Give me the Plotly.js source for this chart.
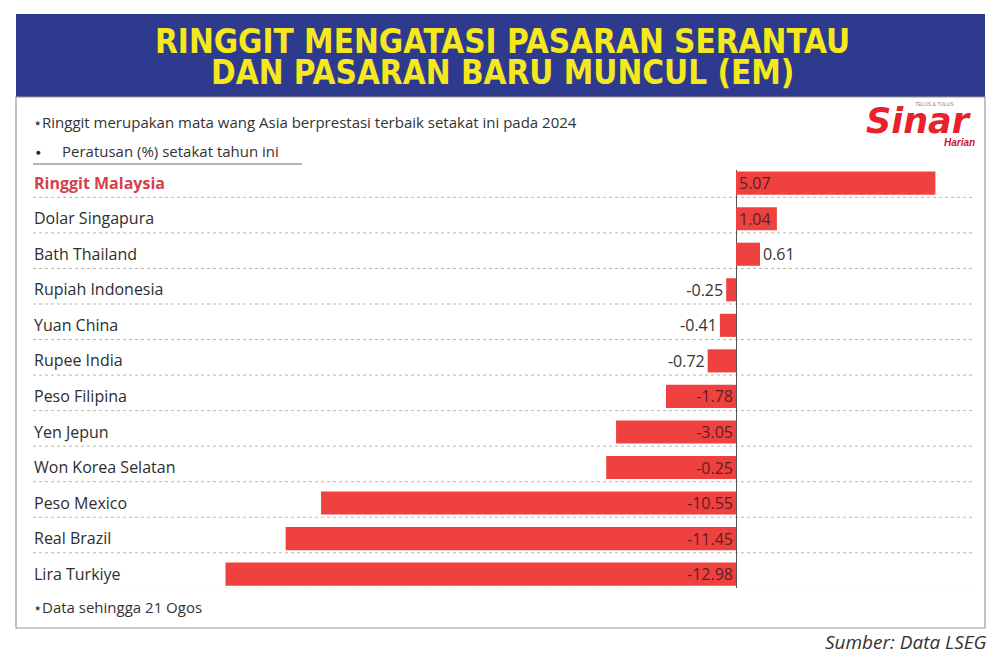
<!DOCTYPE html>
<html>
<head>
<meta charset="utf-8">
<script src="https://cdn.plot.ly/plotly-3.0.1.min.js"></script>
<style>html,body{margin:0;padding:0;background:#fff;}#chart{width:1000px;height:670px;}</style>
</head>
<body>
<div id="chart"></div>
<script>
// ---- data ----
const currencies = ["Ringgit Malaysia","Dolar Singapura","Bath Thailand","Rupiah Indonesia","Yuan China","Rupee India","Peso Filipina","Yen Jepun","Won Korea Selatan","Peso Mexico","Real Brazil","Lira Turkiye"];
// bar lengths as drawn in the picture (% change year to date)
const changes = [5.07, 1.04, 0.61, -0.25, -0.41, -0.72, -1.78, -3.05, -3.3, -10.55, -11.45, -12.98];
// value labels as printed in the picture
const valueLabels = ["5.07","1.04","0.61","-0.25","-0.41","-0.72","-1.78","-3.05","-0.25","-10.55","-11.45","-12.98"];
const titleLines = ["RINGGIT MENGATASI PASARAN SERANTAU","DAN PASARAN BARU MUNCUL (EM)"];
const noteTop = "\u22c6Ringgit merupakan mata wang Asia berprestasi terbaik setakat ini pada 2024";
const bulletText = "Peratusan (%) setakat tahun ini";
const noteBottom = "\u22c6Data sehingga 21 Ogos";
const sourceText = "Sumber: Data LSEG";

// ---- layout helpers ----
const W = 1000, H = 670;
const M = {l: 31, r: 27, t: 170, b: 82};
const PW = W - M.l - M.r, PH = H - M.t - M.b;
const fx = x => (x - M.l) / PW;
const fy = y => (H - M.b - y) / PH;
const XR = [-17.925, 6.026];

const RED = '#ef4140';
const FONT = '"Open Sans", Lato, sans-serif';
const TFONT = '"Liberation Sans Narrow", "DejaVu Sans Condensed", sans-serif';

const tickText = currencies.map((c, i) => i === 0 ? "<b><span style='color:#d5404a'>" + c + "</span></b>" : c);
const textPos = changes.map((v, i) => {
  const lbl = valueLabels[i];
  const widthPx = Math.abs(v) * PW / (XR[1] - XR[0]);
  return widthPx > lbl.length * 8.8 + 4 ? 'inside' : 'outside';
});

const trace = {
  type: 'bar',
  orientation: 'h',
  x: changes,
  y: currencies,
  marker: {color: RED, line: {width: 0}},
  text: valueLabels,
  textposition: textPos,
  insidetextanchor: 'start',
  constraintext: 'none',
  textangle: 0,
  cliponaxis: false,
  insidetextfont: {family: FONT, size: 16, color: '#5a2222'},
  outsidetextfont: {family: FONT, size: 16, color: '#333'},
  hoverinfo: 'skip'
};

const shapes = [
  // header band
  {type: 'rect', xref: 'paper', yref: 'paper', x0: fx(16), x1: fx(985), y0: fy(14), y1: fy(97), fillcolor: '#2e3a8d', line: {width: 0}, layer: 'below'},
  // frame
  {type: 'rect', xref: 'paper', yref: 'paper', x0: fx(16), x1: fx(985), y0: fy(97), y1: fy(628), fillcolor: 'rgba(0,0,0,0)', line: {color: '#9a9a9a', width: 1.2}, layer: 'below'},
  // underline beneath legend note
  {type: 'line', xref: 'paper', yref: 'paper', x0: fx(33), x1: fx(302), y0: fy(164), y1: fy(164), line: {color: '#666', width: 1}}
];
// dotted separators under each row
currencies.forEach((c, i) => {
  shapes.push({type: 'line', xref: 'paper', yref: 'y', x0: fx(33), x1: fx(972), y0: i + 0.4, y1: i + 0.4, line: {color: '#b5b5b5', width: 1, dash: 'dot'}, layer: 'below'});
});

const annotations = [
  {text: titleLines[0], x: fx(502), y: fy(41), xref: 'paper', yref: 'paper', xanchor: 'center', yanchor: 'middle', showarrow: false, font: {family: TFONT, size: 33, color: '#f5e81c', weight: 'bold'}},
  {text: titleLines[1], x: fx(502), y: fy(72), xref: 'paper', yref: 'paper', xanchor: 'center', yanchor: 'middle', showarrow: false, font: {family: TFONT, size: 33, color: '#f5e81c', weight: 'bold'}},
  {text: noteTop, x: fx(31), y: fy(122), xref: 'paper', yref: 'paper', xanchor: 'left', yanchor: 'middle', showarrow: false, font: {family: FONT, size: 15, color: '#333'}},
  {text: '\u25cf', x: fx(34), y: fy(151), xref: 'paper', yref: 'paper', xanchor: 'left', yanchor: 'middle', showarrow: false, font: {family: FONT, size: 8, color: '#222'}},
  {text: bulletText, x: fx(60), y: fy(151), xref: 'paper', yref: 'paper', xanchor: 'left', yanchor: 'middle', showarrow: false, font: {family: FONT, size: 15, color: '#333'}},
  {text: noteBottom, x: fx(31), y: fy(607), xref: 'paper', yref: 'paper', xanchor: 'left', yanchor: 'middle', showarrow: false, font: {family: FONT, size: 15, color: '#333'}},
  {text: '<i>' + sourceText + '</i>', x: fx(989), y: fy(642), xref: 'paper', yref: 'paper', xanchor: 'right', yanchor: 'middle', showarrow: false, font: {family: FONT, size: 19, color: '#333'}},
  // logo
  {text: '<b><i>Sinar</i></b>', x: fx(864), y: fy(121), xref: 'paper', yref: 'paper', xanchor: 'left', yanchor: 'middle', showarrow: false, font: {family: '"DejaVu Sans", sans-serif', size: 35, color: '#e8212b'}},
  {text: '<b><i>Harian</i></b>', x: fx(977), y: fy(142), xref: 'paper', yref: 'paper', xanchor: 'right', yanchor: 'middle', showarrow: false, font: {family: '"Liberation Sans", sans-serif', size: 10, color: '#c8162a'}},
  {text: 'TELUS &amp; TULUS', x: fx(934), y: fy(104), xref: 'paper', yref: 'paper', xanchor: 'center', yanchor: 'middle', showarrow: false, font: {family: '"Liberation Sans", sans-serif', size: 5, color: '#888'}}
];

const layout = {
  width: W, height: H,
  margin: M,
  paper_bgcolor: '#fff', plot_bgcolor: 'rgba(0,0,0,0)',
  showlegend: false,
  bargap: 0.35,
  xaxis: {range: XR, showgrid: false, showticklabels: false, ticks: '', zeroline: true, zerolinecolor: '#555', zerolinewidth: 1, fixedrange: true},
  yaxis: {type: 'category', range: [11.39, -0.37], tickvals: currencies, ticktext: tickText, ticklabelposition: 'inside', ticks: '', showgrid: false, zeroline: false, tickfont: {family: FONT, size: 16, color: '#2e2e2e'}, fixedrange: true},
  shapes: shapes,
  annotations: annotations,
  hovermode: false
};

Plotly.newPlot('chart', [trace], layout, {displayModeBar: false, staticPlot: true});
</script>
</body>
</html>
